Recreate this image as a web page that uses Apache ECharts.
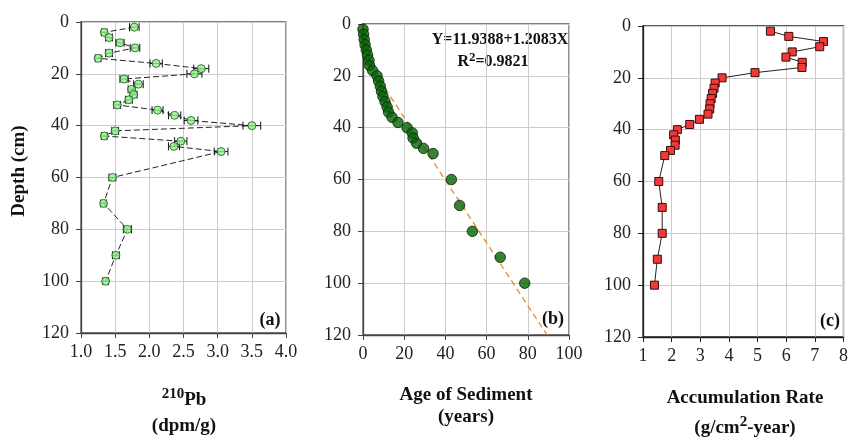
<!DOCTYPE html>
<html>
<head>
<meta charset="utf-8">
<script src="https://cdn.jsdelivr.net/npm/echarts@6/dist/echarts.min.js"></script>
<style>
  html, body { margin: 0; padding: 0; background: #fff; }
  #chart { width: 851px; height: 438px; }
</style>
</head>
<body>
<div id="chart"></div>
<script>
// depth of each slice (cm), shared by the three panels
const depths = [2, 4, 6, 8, 10, 12, 14, 16, 18, 20, 22, 24, 26, 28, 30, 32, 34, 36, 38, 40, 42, 44, 46, 48, 50, 60, 70, 80, 90, 100];

// (a) 210Pb activity (dpm/g) and its error
const pbValues = [1.78, 1.34, 1.41, 1.57, 1.79, 1.41, 1.25, 2.10, 2.76, 2.66, 1.63, 1.84, 1.74, 1.77, 1.70, 1.53, 2.12, 2.37, 2.61, 3.50, 1.50, 1.34, 2.46, 2.36, 3.05, 1.46, 1.33, 1.68, 1.51, 1.36];
const pbErrors = [0.07, 0.04, 0.05, 0.06, 0.07, 0.05, 0.04, 0.09, 0.11, 0.11, 0.06, 0.07, 0.05, 0.05, 0.05, 0.05, 0.08, 0.09, 0.10, 0.13, 0.05, 0.04, 0.09, 0.08, 0.10, 0.05, 0.04, 0.06, 0.05, 0.04];

// (b) age of sediment (years) and the fitted line end points
const ages = [0, 0.3, 0.6, 1.0, 1.6, 2.2, 2.9, 3.2, 4.7, 6.8, 7.6, 8.4, 9.0, 9.7, 10.7, 11.7, 12.4, 14.1, 17.0, 21.4, 23.9, 24.3, 26.0, 29.4, 34.0, 42.9, 46.9, 53.1, 66.6, 78.5];
const trendAge = [0, 89.4];
const trendDepth = [11.9, 120];

// (c) accumulation rate (g/cm2-year)
const accRates = [5.45, 6.09, 7.30, 7.17, 6.21, 5.99, 6.56, 6.55, 4.91, 3.76, 3.52, 3.48, 3.43, 3.38, 3.34, 3.33, 3.27, 2.97, 2.63, 2.20, 2.07, 2.13, 2.12, 1.96, 1.76, 1.55, 1.67, 1.67, 1.50, 1.40];

const depthTicks = [0, 20, 40, 60, 80, 100, 120];

const serif = '"Liberation Serif", "Times New Roman", serif';
const gridColor = '#cccccc';

const chart = echarts.init(document.getElementById('chart'));

const pbData = depths.map((d, i) => [pbValues[i], d]);
const errData = depths.map((d, i) => [pbValues[i] - pbErrors[i], pbValues[i] + pbErrors[i], d]);
const ageData = depths.map((d, i) => [ages[i], d]);
const trendData = trendAge.map((a, i) => [a, trendDepth[i]]);
const accData = depths.map((d, i) => [accRates[i], d]);

const makeX = (idx, min, max, interval, digits, frame) => ({
  type: 'value',
  gridIndex: idx,
  min: min,
  max: max,
  interval: interval,
  axisLine: { show: true, onZero: false, lineStyle: { color: frame, width: 1.3 } },
  axisTick: { show: true, length: 5, lineStyle: { color: frame } },
  axisLabel: {
    color: '#222', fontFamily: serif, fontSize: 18, margin: 10,
    formatter: v => v.toFixed(digits)
  },
  splitLine: { show: true, lineStyle: { color: gridColor, width: 1 } }
});

const makeY = (idx, frame) => ({
  type: 'value',
  gridIndex: idx,
  inverse: true,
  min: depthTicks[0],
  max: depthTicks[depthTicks.length - 1],
  interval: 20,
  axisLine: { show: true, onZero: false, lineStyle: { color: frame, width: 1.3 } },
  axisTick: { show: true, length: 5, lineStyle: { color: frame } },
  axisLabel: { color: '#222', fontFamily: serif, fontSize: 18, margin: 12 },
  splitLine: { show: true, lineStyle: { color: gridColor, width: 1 } }
});

// bold serif text placed by its centre
const label = (x, y, text, size, rich, rotation) => ({
  type: 'text',
  x: x,
  y: y,
  rotation: rotation || 0,
  style: {
    text: text,
    rich: rich,
    align: 'center',
    verticalAlign: 'middle',
    fill: '#111',
    fontFamily: serif,
    fontWeight: 'bold',
    fontSize: size
  }
});

const supRich = {
  b: { fontFamily: serif, fontWeight: 'bold', fontSize: 19, lineHeight: 26, verticalAlign: 'middle' },
  s: { fontFamily: serif, fontWeight: 'bold', fontSize: 15, lineHeight: 17, verticalAlign: 'top' }
};
const eqRich = {
  b: { fontFamily: serif, fontWeight: 'bold', fontSize: 16, lineHeight: 22, verticalAlign: 'middle' },
  s: { fontFamily: serif, fontWeight: 'bold', fontSize: 13, lineHeight: 15, verticalAlign: 'top' }
};

const option = {
  animation: false,
  backgroundColor: '#fff',
  grid: [
    { left: 81, top: 22, width: 205, height: 311, show: true, borderColor: '#555', borderWidth: 1.3 },
    { left: 363, top: 24, width: 206, height: 311, show: true, borderColor: '#555', borderWidth: 1.3 },
    { left: 643, top: 26, width: 203, height: 311, show: true, borderColor: '#222', borderWidth: 1.3 }
  ],
  xAxis: [
    makeX(0, 1, 4, 0.5, 1, '#444'),
    makeX(1, 0, 100, 20, 0, '#444'),
    makeX(2, 1, 8, 1, 0, '#222')
  ],
  yAxis: [
    makeY(0, '#444'),
    makeY(1, '#444'),
    makeY(2, '#222')
  ],
  graphic: [
    label(19, 171, 'Depth (cm)', 19, null, Math.PI / 2),
    label(184, 400, '{s|210}{b|Pb}', 19, supRich),
    label(184, 426, '(dpm/g)', 19),
    label(466, 395, 'Age of Sediment', 19),
    label(466, 417, '(years)', 19),
    label(745, 398, 'Accumulation Rate', 19),
    label(745, 428, '{b|(g/cm}{s|2}{b|-year)}', 19, supRich),
    label(270, 320, '(a)', 18),
    label(553, 319, '(b)', 18),
    label(830, 321, '(c)', 18),
    label(500, 40, 'Y=11.9388+1.2083X', 16),
    label(493, 62, '{b|R}{s|2}{b|=0.9821}', 16, eqRich)
  ],
  series: [
    // (a) dashed profile line
    {
      type: 'line',
      xAxisIndex: 0,
      yAxisIndex: 0,
      data: pbData,
      showSymbol: false,
      lineStyle: { color: '#222', width: 1, type: [6, 3] },
      z: 2
    },
    // (a) horizontal error bars
    {
      type: 'custom',
      xAxisIndex: 0,
      yAxisIndex: 0,
      data: errData,
      z: 3,
      renderItem: (params, api) => {
        const lo = api.coord([api.value(0), api.value(2)]);
        const hi = api.coord([api.value(1), api.value(2)]);
        const st = { stroke: '#111', lineWidth: 1 };
        return {
          type: 'group',
          children: [
            { type: 'line', shape: { x1: lo[0], y1: lo[1], x2: hi[0], y2: hi[1] }, style: st },
            { type: 'line', shape: { x1: lo[0], y1: lo[1] - 4, x2: lo[0], y2: lo[1] + 4 }, style: st },
            { type: 'line', shape: { x1: hi[0], y1: hi[1] - 4, x2: hi[0], y2: hi[1] + 4 }, style: st }
          ]
        };
      }
    },
    // (a) points
    {
      type: 'scatter',
      xAxisIndex: 0,
      yAxisIndex: 0,
      data: pbData,
      symbol: 'circle',
      symbolSize: 8,
      itemStyle: { color: '#8ef28a', borderColor: '#234d23', borderWidth: 1 },
      z: 4
    },
    // (b) fitted line
    {
      type: 'line',
      xAxisIndex: 1,
      yAxisIndex: 1,
      data: trendData,
      showSymbol: false,
      lineStyle: { color: '#e8892b', width: 1.3, type: [6, 4] },
      z: 2
    },
    // (b) ages
    {
      type: 'scatter',
      xAxisIndex: 1,
      yAxisIndex: 1,
      data: ageData,
      symbol: 'circle',
      symbolSize: 10.5,
      itemStyle: { color: '#046404', borderColor: '#0b1f0b', borderWidth: 1 },
      z: 4
    },
    // (c) accumulation rate
    {
      type: 'line',
      xAxisIndex: 2,
      yAxisIndex: 2,
      data: accData,
      symbol: 'rect',
      symbolSize: 8,
      showAllSymbol: true,
      lineStyle: { color: '#222', width: 1 },
      itemStyle: { color: '#f03a3a', borderColor: '#3a0a0a', borderWidth: 1 },
      z: 4
    }
  ]
};

chart.setOption(option);
</script>
</body>
</html>
